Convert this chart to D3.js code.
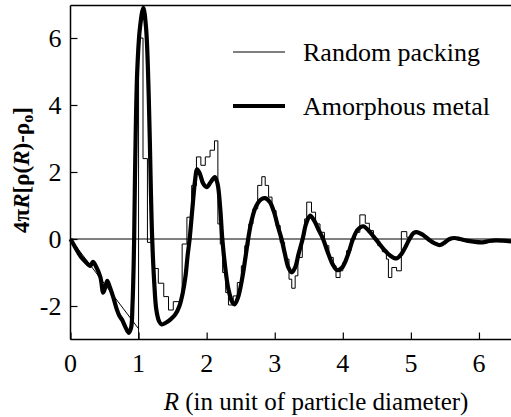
<!DOCTYPE html>
<html>
<head>
<meta charset="utf-8">
<script src="https://cdn.jsdelivr.net/npm/d3@7"></script>
<style>
  html, body { margin: 0; padding: 0; background: #fff; }
  svg { display: block; }
</style>
</head>
<body>
<svg id="chart" width="511" height="417"></svg>
<script>
// ---- data ----
const xTicks = [0, 1, 2, 3, 4, 5, 6];
const yTicks = [-2, 0, 2, 4, 6];

// Amorphous metal (smooth curve)
const metalR = [0, 0.07, 0.15, 0.22, 0.29, 0.33, 0.37, 0.44, 0.48, 0.51, 0.54, 0.58, 0.63, 0.68, 0.72, 0.76, 0.80, 0.855, 0.89, 0.91, 0.925, 0.935, 0.95, 0.98, 1.02, 1.07, 1.11, 1.15, 1.18, 1.20, 1.23, 1.26, 1.30, 1.34, 1.40, 1.47, 1.54, 1.60, 1.65, 1.69, 1.72, 1.75, 1.79, 1.83, 1.86, 1.90, 1.95, 2.00, 2.06, 2.12, 2.16, 2.20, 2.23, 2.27, 2.32, 2.38, 2.41, 2.46, 2.52, 2.57, 2.61, 2.66, 2.72, 2.79, 2.86, 2.93, 2.99, 3.05, 3.10, 3.15, 3.20, 3.25, 3.30, 3.35, 3.41, 3.46, 3.52, 3.58, 3.65, 3.71, 3.78, 3.85, 3.92, 3.99, 4.07, 4.15, 4.22, 4.30, 4.38, 4.45, 4.52, 4.60, 4.70, 4.79, 4.86, 4.93, 4.98, 5.04, 5.10, 5.18, 5.27, 5.35, 5.43, 5.50, 5.57, 5.64, 5.72, 5.82, 5.92, 6.05, 6.15, 6.25, 6.35, 6.50];
const metalG = [0, -0.25, -0.52, -0.68, -0.80, -0.68, -0.80, -1.15, -1.60, -1.45, -1.25, -1.45, -1.75, -2.10, -2.30, -2.42, -2.60, -2.80, -2.65, -2.00, -1.00, 0, 2.2, 5.0, 6.3, 6.9, 6.3, 4.2, 1.5, 0, -1.3, -2.1, -2.45, -2.55, -2.5, -2.4, -2.25, -2.0, -1.6, -1.1, -0.5, 0, 0.9, 1.75, 2.08, 1.95, 1.65, 1.55, 1.70, 1.85, 1.65, 0.9, 0, -0.8, -1.5, -1.9, -1.95, -1.75, -1.2, -0.55, 0, 0.55, 0.95, 1.17, 1.22, 1.10, 0.80, 0.35, 0, -0.45, -0.85, -1.0, -0.85, -0.45, 0, 0.45, 0.70, 0.55, 0.25, 0, -0.4, -0.75, -0.93, -0.85, -0.5, 0, 0.28, 0.38, 0.25, 0.08, -0.1, -0.3, -0.5, -0.58, -0.45, -0.2, 0, 0.18, 0.20, 0.12, -0.03, -0.13, -0.18, -0.10, 0.0, 0.03, 0.0, -0.05, -0.08, -0.10, -0.06, -0.04, -0.05, -0.08];

// Random packing: straight part below one diameter
const packLineR = [0, 1];
const packLineG = [0, -2.68];
// Random packing: histogram steps (left edge, value)
const packStepR = [1.00, 1.00, 1.065, 1.13, 1.22, 1.29, 1.37, 1.44, 1.51, 1.64, 1.71, 1.78, 1.85, 1.915, 1.98, 2.05, 2.115, 2.165, 2.20, 2.235, 2.28, 2.32, 2.39, 2.45, 2.51, 2.56, 2.62, 2.68, 2.75, 2.81, 2.86, 2.91, 2.96, 3.02, 3.08, 3.145, 3.21, 3.25, 3.30, 3.34, 3.405, 3.44, 3.47, 3.54, 3.60, 3.665, 3.73, 3.795, 3.86, 3.90, 3.96, 4.00, 4.055, 4.12, 4.185, 4.25, 4.33, 4.39, 4.45, 4.515, 4.58, 4.64, 4.67, 4.72, 4.79, 4.86, 4.94, 5.00];
const packStepG = [-3.0, 6.0, 2.4, -0.1, -0.88, -1.32, -1.72, -2.12, -1.87, -0.15, 0.65, 1.6, 2.45, 2.2, 2.45, 2.65, 2.93, 0.45, -0.15, -1.0, -1.6, -1.97, -1.7, -1.3, -0.8, -0.2, 0.45, 0.9, 1.6, 1.86, 1.6, 1.25, 0.85, 0.4, -0.1, -0.6, -1.2, -1.47, -1.1, -0.55, 0.1, 0.6, 1.1, 0.8, 0.45, 0.2, -0.2, -0.55, -0.8, -1.15, -0.95, -0.7, -0.35, 0.0, 0.2, 0.72, 0.47, 0.25, 0.0, -0.2, -0.38, -0.6, -1.15, -0.85, -0.95, 0.22, 0.05, 0.05];

const legendLabels = ["Random packing", "Amorphous metal"];

// ---- layout ----
const FONT = "'Liberation Serif', 'Times New Roman', serif";
const svg = d3.select("#chart");
const W = 511, H = 417;
const mLeft = 70.5, mRight = 513, mTop = 4.5, mBottom = 339.5;

const x = d3.scaleLinear().domain([0, 6.5]).range([mLeft, mRight]);
const y = d3.scaleLinear().domain([-3, 7]).range([mBottom, mTop]);

const g = svg.append("g").attr("font-family", FONT);

// zero line
g.append("line")
  .attr("x1", x(0)).attr("x2", W).attr("y1", y(0)).attr("y2", y(0))
  .attr("stroke", "#000").attr("stroke-width", 1);

// frame top
g.append("line").attr("x1", mLeft).attr("x2", W).attr("y1", mTop + 1).attr("y2", mTop + 1)
  .attr("stroke", "#000").attr("stroke-width", 1.5);

// axes with inward ticks
const yAxis = d3.axisRight(y).tickValues(yTicks).tickSize(7).tickFormat(d3.format("d"));
const yAx = g.append("g").attr("transform", `translate(${mLeft},0)`).call(yAxis);
yAx.select(".domain").attr("stroke-width", 1.5).attr("d", `M0,${mTop+1}V${mBottom}`);
yAx.selectAll(".tick text").remove();
yAx.selectAll(".tick line").attr("stroke-width", 1.2);

const xAxis = d3.axisTop(x).tickValues(xTicks).tickSize(7);
const xAx = g.append("g").attr("transform", `translate(0,${mBottom})`).call(xAxis);
xAx.select(".domain").attr("stroke-width", 1.5).attr("d", `M${mLeft},0H${W}`);
xAx.selectAll(".tick text").remove();
xAx.selectAll(".tick line").attr("stroke-width", 1.2);

// tick labels
g.selectAll(".ylab").data(yTicks).join("text")
  .attr("font-family", FONT)
  .attr("x", mLeft - 9).attr("y", d => y(d) + 9)
  .attr("text-anchor", "end").attr("font-size", 26)
  .text(d => d);
g.selectAll(".xlab").data(xTicks).join("text")
  .attr("font-family", FONT)
  .attr("x", d => x(d)).attr("y", 372)
  .attr("text-anchor", "middle").attr("font-size", 26)
  .text(d => d);

// random packing thin lines
const lineLin = d3.line().x(d => x(d[0])).y(d => y(d[1]));
g.append("path").datum(d3.zip(packLineR, packLineG))
  .attr("d", lineLin).attr("fill", "none").attr("stroke", "#000").attr("stroke-width", 1);
const lineStep = d3.line().x(d => x(d[0])).y(d => y(d[1])).curve(d3.curveStepAfter);
g.append("path").datum(d3.zip(packStepR, packStepG))
  .attr("d", lineStep).attr("fill", "none").attr("stroke", "#000").attr("stroke-width", 1);

// amorphous metal thick curve
const lineSmooth = d3.line().x(d => x(d[0])).y(d => y(d[1])).curve(d3.curveCatmullRom.alpha(0.5));
g.append("path").datum(d3.zip(metalR, metalG))
  .attr("d", lineSmooth).attr("fill", "none").attr("stroke", "#000")
  .attr("stroke-width", 4.2).attr("stroke-linejoin", "round");

// legend
const legY = [52, 106];
const legW = [1, 4];
legendLabels.forEach((lab, i) => {
  g.append("line").attr("x1", 233).attr("x2", 285).attr("y1", legY[i]).attr("y2", legY[i])
    .attr("stroke", "#000").attr("stroke-width", legW[i]);
  g.append("text").attr("font-family", FONT)
    .attr("x", 303).attr("y", legY[i] + 9).attr("font-size", 26).text(lab);
});

// x axis title
const xt = g.append("text").attr("font-family", FONT)
  .attr("x", 316).attr("y", 410).attr("text-anchor", "middle").attr("font-size", 25);
xt.append("tspan").attr("font-style", "italic").text("R");
xt.append("tspan").text(" (in unit of particle diameter)");

// y axis title
const yt = g.append("text").attr("font-family", FONT)
  .attr("transform", "translate(29,170) rotate(-90)")
  .attr("text-anchor", "middle").attr("font-size", 23).attr("font-weight", "bold");
yt.append("tspan").text("4π");
yt.append("tspan").attr("font-style", "italic").text("R");
yt.append("tspan").text("[ρ(");
yt.append("tspan").attr("font-style", "italic").text("R");
yt.append("tspan").text(")-ρ");
yt.append("tspan").attr("font-size", 16).attr("dy", 4).text("o");
yt.append("tspan").attr("dy", -4).text("]");
</script>
</body>
</html>
